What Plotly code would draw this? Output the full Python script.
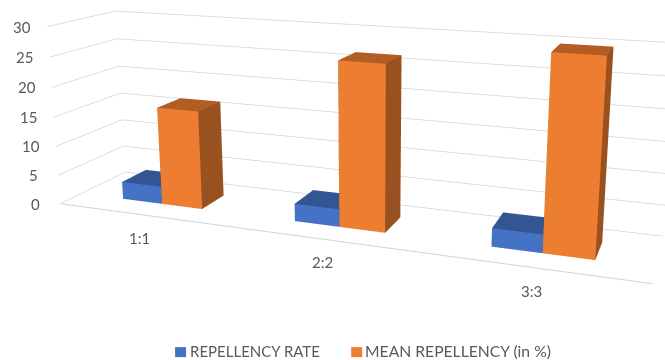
import plotly.graph_objects as go

categories = ["1:1", "2:2", "3:3"]
series_names = ["REPELLENCY RATE", "MEAN REPELLENCY (in %)"]
repellency_rate = [3.0, 2.9, 2.9]
mean_repellency = [16.6, 26.6, 29.9]
value_ticks = [0, 5, 10, 15, 20, 25, 30]

BLUE = ("#4472C4", "#335593", "#2A4A80")
ORANGE = ("#ED7D31", "#B25D25", "#9A5120")
TEXT = "#595959"
GRID = "#d4d4d4"

# Bars sit side by side in each category, centred in depth on the floor.
BAR_WIDTH = 0.238
DEPTH = (0.306, 0.695)

# The scene is larger than the window and pushed up and to the left, which
# gives a long lens with its optical centre above the middle of the chart.
FOCAL = 1002.167
CENTRE_X, CENTRE_Y = 368.799, 107.802
SCENE_H = FOCAL / 1.2071
SCENE_W = 2 * max(CENTRE_X, 665 - CENTRE_X)
LEFT = CENTRE_X - SCENE_W / 2
TOP = CENTRE_Y - SCENE_H / 2
FIG_H = max(SCENE_H, 360 - TOP + 10)


def page_x(x):
    return (x - LEFT) / SCENE_W


def page_y(y):
    return 1 - (y - TOP) / FIG_H


def bar(x0, x1, height, colours):
    front, top, side = colours
    y0, y1 = DEPTH
    return go.Mesh3d(
        x=[x0, x1, x1, x0, x0, x1, x1, x0],
        y=[y0, y0, y1, y1, y0, y0, y1, y1],
        z=[0, 0, 0, 0, height, height, height, height],
        i=[0, 0, 1, 1, 2, 2, 3, 3, 4, 4, 0, 0],
        j=[1, 5, 2, 6, 3, 7, 0, 4, 5, 6, 1, 2],
        k=[5, 4, 6, 5, 7, 6, 4, 7, 6, 7, 2, 3],
        facecolor=[front, front, side, side, side, side, side, side, top, top, side, side],
        flatshading=True,
        showlegend=False,
        hoverinfo="skip",
        lighting=dict(ambient=1, diffuse=0, specular=0, fresnel=0),
    )


fig = go.Figure()
for n, (rate, mean) in enumerate(zip(repellency_rate, mean_repellency)):
    centre = n + 1
    fig.add_trace(bar(centre - BAR_WIDTH, centre, rate, BLUE))
    fig.add_trace(bar(centre, centre + BAR_WIDTH, mean, ORANGE))

font = dict(family="Lato", size=15, color=TEXT)

# Axis labels are anchored to the scene's own coordinates.
scene_labels = [
    dict(x=0.5, y=0, z=v, text=str(v), showarrow=False, xshift=-25, yshift=0, font=font)
    for v in value_ticks
] + [
    dict(x=n + 1, y=0, z=0, text=c, showarrow=False, xshift=-3, yshift=-23, font=font)
    for n, c in enumerate(categories)
]

hidden = dict(title="", showgrid=False, zeroline=False, showbackground=False,
              showticklabels=False, ticks="", showspikes=False)

fig.update_layout(
    width=SCENE_W,
    height=FIG_H,
    margin=dict(l=0, r=0, t=0, b=0),
    paper_bgcolor="white",
    font=font,
    showlegend=False,
    scene=dict(
        domain=dict(x=[0, 1], y=[1 - SCENE_H / FIG_H, 1]),
        aspectmode="manual",
        aspectratio=dict(x=3.205, y=0.637, z=1),
        camera=dict(
            eye=dict(x=1.854, y=-4.724, z=1.337),
            center=dict(x=0.051, y=0.189, z=0.074),
            up=dict(x=0.001, y=0.002, z=1),
            projection=dict(type="perspective"),
        ),
        xaxis=dict(hidden, range=[0.5, 3.5], tickvals=[1, 2, 3],
                   showline=True, linecolor=GRID, linewidth=2),
        yaxis=dict(hidden, range=[0, 1], showline=False),
        zaxis=dict(hidden, range=[0, 30], tickvals=value_ticks, showgrid=True,
                   gridcolor=GRID, gridwidth=1.5, showline=False),
        annotations=scene_labels,
    ),
)

# Legend row under the chart.
legend_rows = [(175, BLUE[0], series_names[0], 188, 15), (351, ORANGE[0], series_names[1], 363, 15.7)]
for swatch_x, colour, label, text_x, size in legend_rows:
    fig.add_shape(type="rect", xref="paper", yref="paper",
                  x0=page_x(swatch_x), x1=page_x(swatch_x + 11),
                  y0=page_y(347), y1=page_y(357), fillcolor=colour, line_width=0)
    fig.add_annotation(text=label, x=page_x(text_x), y=page_y(351), xref="paper", yref="paper",
                       showarrow=False, xanchor="left", yanchor="middle",
                       font=dict(family="Lato", size=size, color=TEXT))

place_plot = (
    "var d=document.getElementById('{plot_id}');"
    "d.style.position='absolute';"
    f"d.style.left='{LEFT}px';d.style.top='{TOP}px';"
    "document.documentElement.style.overflow='hidden';"
    "document.body.style.overflow='hidden';"
)
fig.write_html("out.html", post_script=place_plot)
